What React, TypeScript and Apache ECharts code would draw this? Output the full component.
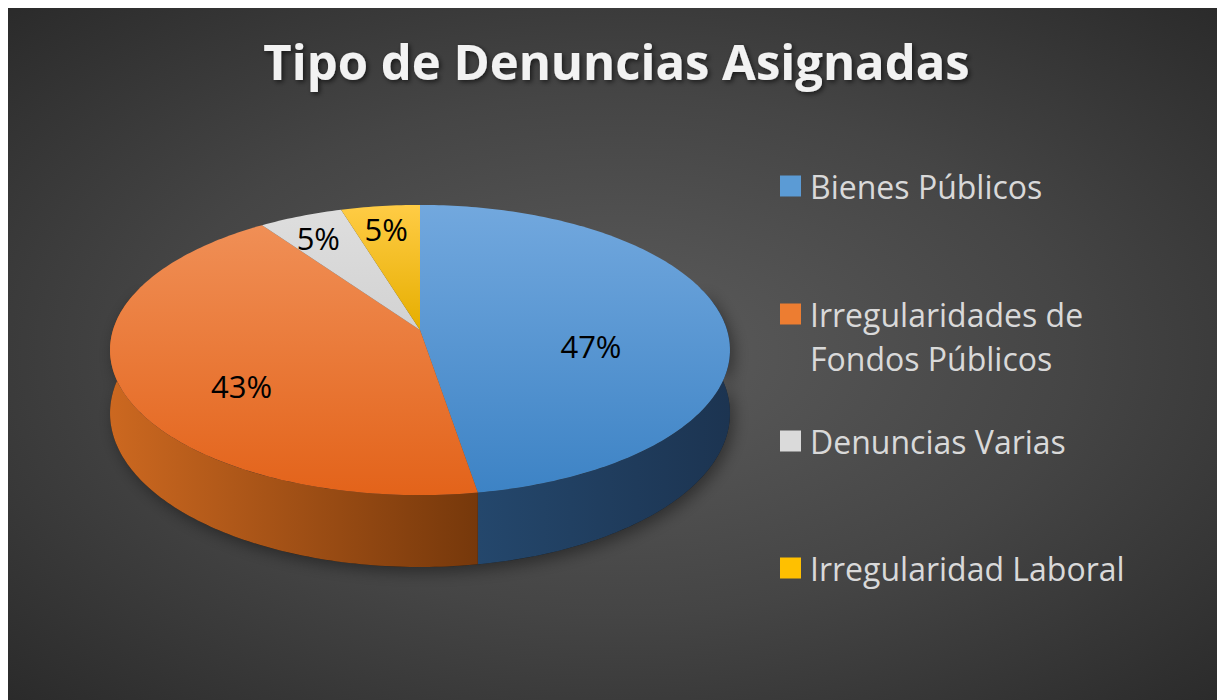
import React, { useEffect, useRef } from "react";
import * as echarts from "echarts";

// ---- data ----
const categories = [
  "Bienes Públicos",
  "Irregularidades de Fondos Públicos",
  "Denuncias Varias",
  "Irregularidad Laboral",
];
// shares (%); labels read 47%, 43%, 5%, 5%
const values = [47.4, 42.9, 5.0, 4.7];
const titleText = "Tipo de Denuncias Asignadas";

// ---- styles ----
const legendColors = ["#5b9bd5", "#ed7d31", "#dadada", "#ffc000"];
const topStops = [
  ["#72a8de", "#3d83c5"],
  ["#f08f56", "#e3631a"],
  ["#dedede", "#d2d2d2"],
  ["#ffcc45", "#e6ae00"],
];
const sideStops = [
  ["#24476c", "#1c3451"],
  ["#cc6820", "#76380b"],
  ["#a8a8a8", "#8a8a8a"],
  ["#c99400", "#9a7200"],
];

const W = 1217;
const HGT = 692;
// 3D pie projection parameters
const CX = 412;
const CY = 322;
const RX = 307;
const RY = 142.3;
const PERSP = 0.138;
const DEPTH = 62;

function proj(theta: number, f = 1) {
  const c = Math.cos(theta);
  const s = 1 / (1 + PERSP * f * c);
  return [CX + RX * f * Math.sin(theta) * s, CY - RY * f * c * s, s];
}

function arc(a: number, b: number, bottom: boolean) {
  const pts: number[][] = [];
  const n = Math.max(2, Math.ceil(((b - a) * 180) / Math.PI));
  for (let k = 0; k <= n; k++) {
    const t = a + ((b - a) * k) / n;
    const p = proj(t);
    pts.push([p[0], bottom ? p[1] + DEPTH * p[2] : p[1]]);
  }
  return pts;
}

const total = values.reduce((s, v) => s + v, 0);

function renderItem(params: any, api: any) {
  const i = params.dataIndex;
  const v = api.value(0);
  let before = 0;
  for (let k = 0; k < i; k++) before += values[k];
  const start = (before / total) * Math.PI * 2;
  const end = start + (v / total) * Math.PI * 2;
  const frac = v / total;
  const children: any[] = [];

  if (i === 0) {
    // soft drop shadow beneath the whole pie
    const sh = arc(Math.PI * 0.4, Math.PI * 1.6, true);
    const shTop = arc(Math.PI * 0.4, Math.PI * 1.6, false).reverse();
    children.push({
      type: "polygon",
      z2: 0,
      shape: { points: sh.concat(shTop) },
      style: {
        fill: "rgba(0,0,0,0.55)",
        shadowBlur: 16,
        shadowColor: "rgba(0,0,0,0.75)",
        shadowOffsetX: 4,
        shadowOffsetY: 5,
      },
    });
  }

  // side wall (front visible part)
  const a = Math.max(start, (75 * Math.PI) / 180);
  const b = Math.min(end, (285 * Math.PI) / 180);
  if (a < b) {
    const topArc = arc(a, b, false);
    const botArc = arc(a, b, true).reverse();
    children.push({
      type: "polygon",
      z2: 2,
      shape: { points: topArc.concat(botArc) },
      style: {
        fill: new echarts.graphic.LinearGradient(0, 0, 1, 0, [
          { offset: 0, color: sideStops[i][0] },
          { offset: 1, color: sideStops[i][1] },
        ]),
      },
    });
  }

  // top face
  const topPts = [[CX, CY]].concat(arc(start, end, false));
  children.push({
    type: "polygon",
    z2: 10,
    shape: { points: topPts },
    style: {
      fill: new echarts.graphic.LinearGradient(0, 0, 0, 1, [
        { offset: 0, color: topStops[i][0] },
        { offset: 1, color: topStops[i][1] },
      ]),
    },
  });

  // label at (scaled) centroid of the sector
  const mid = (start + end) / 2;
  const half = (end - start) / 2;
  const small = frac < 0.1;
  const f = (1.26 * 2 * Math.sin(half)) / (3 * half);
  const lp = proj(mid, f);
  children.push({
    type: "text",
    z2: 20,
    x: lp[0],
    y: lp[1] + (small ? 5 : 22),
    style: {
      text: Math.round(frac * 100) + "%",
      fill: "#000000",
      font: "31px 'Open Sans'",
      align: "center",
      verticalAlign: "middle",
    },
  });

  return { type: "group", children };
}

const legendTops = [156, 240, 411, 538];

export default function App() {
  const ref = useRef<HTMLDivElement>(null);
  useEffect(() => {
    if (!ref.current) return;
    const chart = echarts.init(ref.current, undefined, { renderer: "svg" });
    chart.setOption({
      animation: false,
      graphic: [
        {
          type: "rect",
          left: 0,
          top: 0,
          z: -100,
          silent: true,
          shape: { width: W, height: HGT },
          style: {
            fill: new echarts.graphic.RadialGradient(0.5, 0.5, 0.75, [
              { offset: 0, color: "#5c5c5c" },
              { offset: 0.5, color: "#454545" },
              { offset: 1, color: "#272727" },
            ]),
          },
        },
      ],
      title: {
        text: titleText,
        left: "center",
        top: 23,
        textStyle: {
          color: "#f2f2f2",
          fontSize: 49,
          fontWeight: "bold",
          fontFamily: "'Open Sans'",
          textShadowColor: "rgba(0,0,0,0.6)",
          textShadowBlur: 5,
          textShadowOffsetX: 2,
          textShadowOffsetY: 2,
        },
      },
      legend: categories.map((name, i) => ({
        data: [name],
        orient: "vertical",
        left: 772,
        top: legendTops[i],
        padding: 0,
        itemWidth: 21,
        itemHeight: 21,
        icon: "rect",
        selectedMode: false,
        formatter: (n: string) =>
          n === "Irregularidades de Fondos Públicos"
            ? " \nIrregularidades de\nFondos Públicos"
            : n,
        textStyle: {
          color: "#d9d9d9",
          fontSize: 32,
          fontFamily: "'Open Sans'",
          lineHeight: 44,
          padding: [0, 0, 0, 4],
        },
      })),
      series: [
        {
          // helper series providing legend entries/colours (kept off-canvas)
          type: "pie",
          center: [-300, -300],
          radius: 1,
          silent: true,
          label: { show: false },
          labelLine: { show: false },
          data: categories.map((name, i) => ({
            name,
            value: values[i],
            itemStyle: { color: legendColors[i] },
          })),
        },
        {
          type: "custom",
          coordinateSystem: "none",
          silent: true,
          renderItem,
          data: values.map((v) => [v]),
        },
      ],
    });
    return () => chart.dispose();
  }, []);
  return <div ref={ref} style={{ width: W, height: HGT }} />;
}
